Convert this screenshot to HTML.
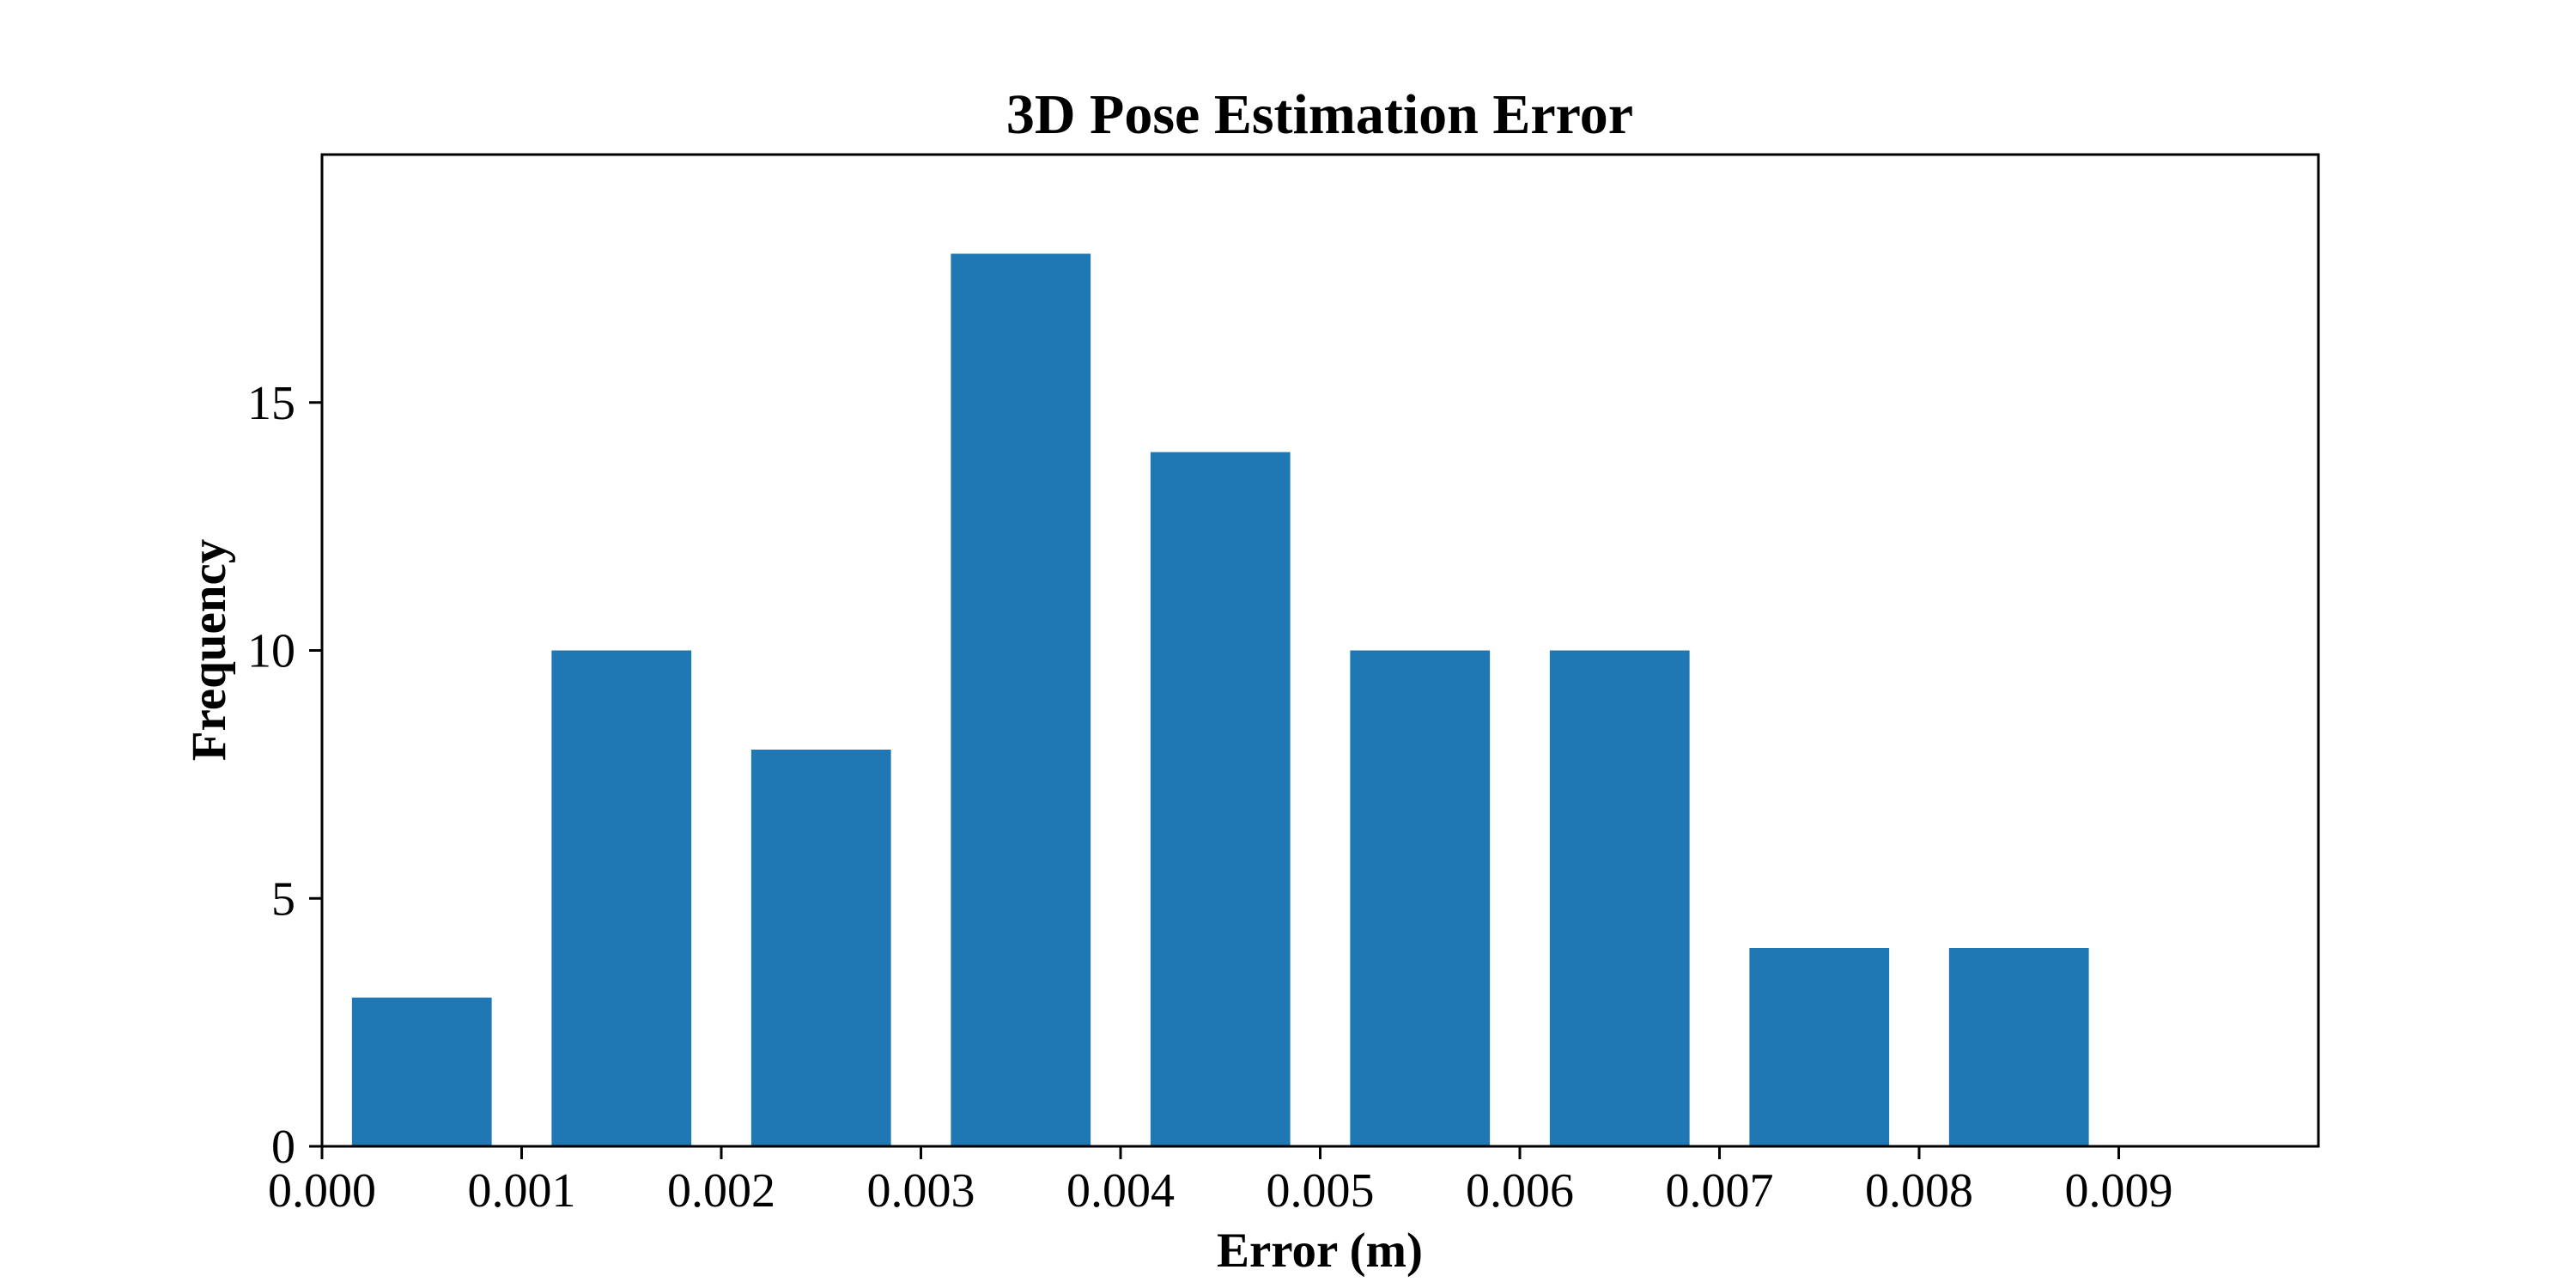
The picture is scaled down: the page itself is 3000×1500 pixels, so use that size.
<!DOCTYPE html>
<html><head><meta charset="utf-8"><style>html,body{margin:0;padding:0;background:#fff}svg{display:block}text{font-family:"Liberation Serif",serif;fill:#000}</style></head>
<body>
<svg id="chart" width="3000" height="1500" viewBox="0 0 3000 1500" xmlns="http://www.w3.org/2000/svg">
<rect width="3000" height="1500" fill="#fff"/>
<text x="1537" y="155" font-size="66" font-weight="bold" text-anchor="middle">3D Pose Estimation Error</text>
<g id="bars"></g>
<g id="ticks"></g>
<rect x="375" y="180" width="2325" height="1155" fill="none" stroke="#000" stroke-width="3"/>
<text x="1537" y="1475" font-size="57" font-weight="bold" text-anchor="middle">Error (m)</text>
<text transform="translate(262,757) rotate(-90)" font-size="57" font-weight="bold" text-anchor="middle">Frequency</text>
</svg>
<script>
const binCenters = [0.0005,0.0015,0.0025,0.0035,0.0045,0.0055,0.0065,0.0075,0.0085];
const counts = [3,10,8,18,14,10,10,4,4];
const xTicks = [0,0.001,0.002,0.003,0.004,0.005,0.006,0.007,0.008,0.009];
const xTickLabels = ["0.000","0.001","0.002","0.003","0.004","0.005","0.006","0.007","0.008","0.009"];
const yTicks = [0,5,10,15];
const yTickLabels = ["0","5","10","15"];
const barWidth = 0.0007;

const L=375,R=2700,T=180,B=1335,xMin=0,xMax=0.01,yMin=0,yMax=20;
const xs=v=>L+(v-xMin)/(xMax-xMin)*(R-L);
const ys=v=>B-(v-yMin)/(yMax-yMin)*(B-T);
const NS="http://www.w3.org/2000/svg";
const bars=document.getElementById('bars'), ticks=document.getElementById('ticks');
binCenters.forEach((c,i)=>{
  const r=document.createElementNS(NS,'rect');
  
  
  const x0=xs(c-barWidth/2), x1=xs(c+barWidth/2);
  r.setAttribute('x',x0);r.setAttribute('width',x1-x0);
  r.setAttribute('y',ys(counts[i]));r.setAttribute('height',ys(0)-ys(counts[i]));
  r.setAttribute('fill','#1f77b4');
  bars.appendChild(r);
});
xTicks.forEach((v,i)=>{
  const l=document.createElementNS(NS,'line');
  
  
  l.setAttribute('x1',xs(v));l.setAttribute('x2',xs(v));l.setAttribute('y1',B);l.setAttribute('y2',B+15);
  l.setAttribute('stroke','#000');l.setAttribute('stroke-width','3');
  ticks.appendChild(l);
  const t=document.createElementNS(NS,'text');
  
  
  t.setAttribute('x',xs(v));t.setAttribute('y',1405);t.setAttribute('font-size','56');t.setAttribute('text-anchor','middle');
  t.textContent=xTickLabels[i];
  ticks.appendChild(t);
});
yTicks.forEach((v,i)=>{
  const l=document.createElementNS(NS,'line');
  
  
  l.setAttribute('x1',L-15);l.setAttribute('x2',L);l.setAttribute('y1',ys(v));l.setAttribute('y2',ys(v));
  l.setAttribute('stroke','#000');l.setAttribute('stroke-width','3');
  ticks.appendChild(l);
  const t=document.createElementNS(NS,'text');
  
  
  t.setAttribute('x',344);t.setAttribute('y',ys(v)+19);t.setAttribute('font-size','56');t.setAttribute('text-anchor','end');
  t.textContent=yTickLabels[i];
  ticks.appendChild(t);
});
</script>
</body></html>
